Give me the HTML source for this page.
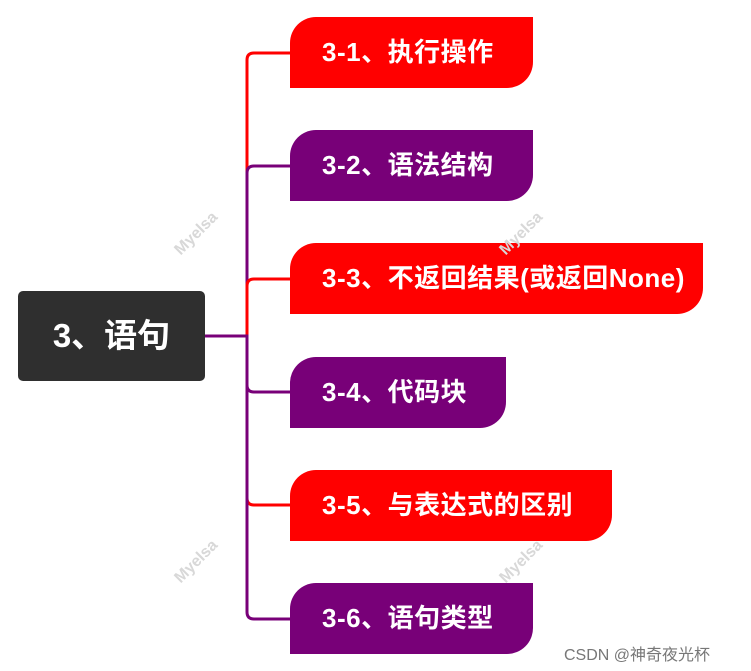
<!DOCTYPE html>
<html><head><meta charset="utf-8"><style>
body{margin:0;width:751px;height:671px;background:#fff;position:relative;overflow:hidden;font-family:"Liberation Sans","Noto Sans CJK SC",sans-serif}
.n{position:absolute;left:290px;height:71px;border-radius:26px 0 26px 0;color:#fff;font-weight:bold;font-size:26px;letter-spacing:0.5px;line-height:71px;padding-left:32px;box-sizing:border-box;white-space:nowrap}
.r{background:#ff0000}.p{background:#780078}
.root{position:absolute;left:18px;top:291px;width:187px;height:90px;background:#2f2f2f;border-radius:5px;color:#fff;font-weight:bold;font-size:33px;line-height:90px;text-align:center}
.w{position:absolute;color:#d8d8d8;font-size:16px;font-weight:bold;transform:rotate(-45deg)}
.c{position:absolute;left:564px;top:641px;color:#777;font-size:16px}
</style></head><body>
<svg width="751" height="671" style="position:absolute;left:0;top:0">
<g fill="none" stroke-width="3">
<path d="M205 336 H247 V60 Q247 53 254 53 H292" stroke="#ff0000"/>
<path d="M205 336 H247 V173 Q247 166 254 166 H292" stroke="#780078"/>
<path d="M205 336 H247 V286 Q247 279 254 279 H292" stroke="#ff0000"/>
<path d="M205 336 H247 V385 Q247 392 254 392 H292" stroke="#780078"/>
<path d="M205 336 H247 V498 Q247 505 254 505 H292" stroke="#ff0000"/>
<path d="M205 336 H247 V612 Q247 619 254 619 H292" stroke="#780078"/>
</g></svg>
<div class="root">3、语句</div>
<div class="n r" style="top:17px;width:243px">3-1、执行操作</div>
<div class="n p" style="top:130px;width:243px">3-2、语法结构</div>
<div class="n r" style="top:243px;width:413px">3-3、不返回结果(或返回None)</div>
<div class="n p" style="top:357px;width:216px">3-4、代码块</div>
<div class="n r" style="top:470px;width:322px">3-5、与表达式的区别</div>
<div class="n p" style="top:583px;width:243px">3-6、语句类型</div>
<div class="w" style="left:170px;top:225px">Myelsa</div>
<div class="w" style="left:495px;top:225px">Myelsa</div>
<div class="w" style="left:170px;top:553px">Myelsa</div>
<div class="w" style="left:495px;top:553px">Myelsa</div>
<div class="c">CSDN @神奇夜光杯</div>
</body></html>
